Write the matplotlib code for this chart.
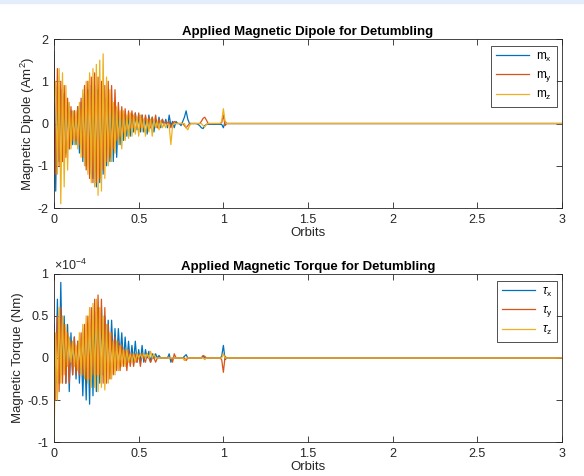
import numpy as np
import matplotlib
matplotlib.use("Agg")
import matplotlib.pyplot as plt
from matplotlib.ticker import FuncFormatter
from matplotlib.patches import Rectangle

plt.rcParams["font.family"] = ["Liberation Sans", "DejaVu Sans"]
plt.rcParams["mathtext.fontset"] = "custom"
plt.rcParams["mathtext.rm"] = "Liberation Sans"
plt.rcParams["mathtext.it"] = "Liberation Sans:italic"

# detumbling log, sampled every 0.01 orbit until the controller settles
orbit_step = 0.01
orbit_end = 3.0

m_x = [1.7, -1.6, 0.9, -0.9, 0.8, -0.9, 0.7, -0.7, 0.5, -0.6,
       0.3, -0.5, 0.3, -0.5, 0.4, -0.7, 0.5, -0.9, 0.7, -1.0,
       0.8, -1.2, 0.9, -1.3, 0.9, -1.5, 0.8, -1.4, 0.7, -1.2,
       0.6, -1.0, 0.5, -0.9, 0.4, -0.9, 0.3, -0.8, 0.3, -0.5,
       0.2, -0.4, 0.2, -0.3, 0.2, -0.3, 0.2, -0.2, 0.25, -0.15,
       0.2, -0.2, 0.2, -0.2, 0.15, -0.25, 0.2, -0.1, 0.15, -0.2,
       0.1, -0.1, 0.15, -0.1, 0.1, -0.05, 0.1, -0.1, 0.2, -0.05,
       0.05, -0.1, 0.05, 0.0, 0.0, -0.05, 0.05, 0.15, 0.3, 0.1,
       0.0, 0.0, 0.0, 0.0, 0.0, -0.02, -0.05, -0.1, -0.12, -0.05,
       -0.02, -0.02, -0.02, -0.02, -0.02, -0.02, -0.02, -0.02, -0.02, -0.02,
       -0.1, 0.05, 0.0, 0.0, 0.0]
m_y = [1.5, -1.2, 1.3, -1.0, 1.0, -0.9, 0.9, -0.8, 0.6, -0.6,
       0.4, -0.4, 0.3, -0.4, 0.4, -0.5, 0.6, -0.8, 0.9, -1.1,
       1.0, -1.3, 1.1, -1.4, 1.2, -1.4, 1.1, -1.3, 1.0, -1.1,
       0.9, -0.9, 1.0, -0.8, 0.9, -0.6, 0.8, -0.4, 0.5, -0.3,
       0.4, -0.2, 0.35, -0.15, 0.3, -0.1, 0.3, -0.1, 0.25, -0.1,
       0.25, -0.1, 0.2, -0.1, 0.2, -0.05, 0.15, -0.1, 0.15, -0.05,
       0.2, -0.1, 0.1, 0.0, 0.1, -0.05, 0.05, 0.0, 0.05, -0.1,
       0.0, 0.05, 0.0, 0.0, 0.0, 0.0, 0.0, -0.05, -0.1, -0.05,
       0.0, 0.0, 0.0, 0.0, 0.0, 0.0, 0.0, 0.05, 0.12, 0.15,
       0.08, 0.0, 0.0, 0.0, 0.0, 0.0, 0.0, 0.0, 0.0, 0.02,
       0.2, -0.05, 0.0, 0.0, 0.0]
m_z = [0.5, 1.0, -1.2, 1.3, -1.9, 1.2, -1.5, 0.9, -1.1, 0.5,
       -0.6, 0.3, -0.5, 0.3, -0.6, 0.5, -0.8, 0.8, -1.0, 1.0,
       -1.2, 1.2, -1.4, 1.3, -1.5, 1.4, -1.7, 1.5, -1.6, 1.65,
       -1.3, 1.1, -1.0, 0.8, -0.9, 0.5, -0.7, 0.4, -0.5, 0.3,
       -0.6, 0.3, -0.4, 0.2, -0.35, 0.25, -0.3, 0.2, -0.25, 0.15,
       -0.3, 0.2, -0.2, 0.1, -0.3, 0.1, -0.2, 0.1, -0.3, 0.1,
       -0.1, 0.05, -0.15, 0.05, -0.1, 0.0, -0.1, 0.0, -0.05, -0.5,
       -0.05, 0.0, 0.0, 0.0, 0.0, 0.0, 0.0, 0.0, -0.1, -0.15,
       -0.05, 0.0, 0.0, 0.0, 0.0, 0.0, 0.0, 0.0, -0.05, -0.08,
       -0.02, 0.0, 0.0, 0.0, 0.0, 0.0, 0.0, 0.0, 0.0, 0.05,
       0.35, 0.05, 0.0, 0.0, 0.0]

# torques in units of 1e-4 Nm
torque_scale_exp = -4
tau_x = [0.2, -0.3, 0.7, -0.3, 0.9, -0.2, 0.5, -0.3, 0.4, -0.4,
         0.3, -0.2, 0.25, -0.25, 0.2, -0.3, 0.15, -0.45, 0.2, -0.5,
         0.3, -0.55, 0.4, -0.45, 0.55, -0.4, 0.6, -0.3, 0.6, -0.2,
         0.5, -0.1, 0.45, -0.1, 0.45, -0.05, 0.35, -0.05, 0.35, 0.0,
         0.3, -0.05, 0.25, -0.05, 0.2, -0.05, 0.15, -0.05, 0.2, -0.05,
         0.1, -0.05, 0.15, -0.05, 0.1, 0.0, 0.08, -0.05, 0.05, 0.0,
         0.05, 0.0, 0.03, 0.0, 0.0, 0.0, 0.0, 0.0, 0.05, -0.05,
         0.0, 0.0, 0.0, 0.0, 0.0, 0.0, 0.0, 0.02, 0.04, 0.0,
         0.0, 0.0, 0.0, 0.0, 0.0, 0.0, 0.0, 0.0, 0.02, 0.0,
         0.0, 0.0, 0.0, 0.0, 0.0, 0.0, 0.0, 0.0, 0.0, 0.02,
         0.15, -0.02, 0.0, 0.0, 0.0]
tau_y = [0.4, -0.5, 0.5, -0.4, 0.6, -0.3, 0.4, -0.3, 0.3, -0.3,
         0.2, -0.2, 0.25, -0.2, 0.2, -0.2, 0.3, -0.2, 0.4, -0.25,
         0.5, -0.25, 0.6, -0.2, 0.7, -0.2, 0.75, -0.2, 0.7, -0.3,
         0.6, -0.3, 0.4, -0.25, 0.3, -0.2, 0.25, -0.15, 0.2, -0.15,
         0.15, -0.1, 0.1, -0.15, 0.1, -0.1, 0.05, -0.1, 0.05, -0.05,
         0.05, -0.1, 0.05, 0.0, -0.05, 0.05, 0.0, -0.05, 0.0, 0.0,
         -0.05, 0.0, 0.0, 0.0, 0.0, 0.0, 0.0, 0.0, 0.0, 0.0,
         -0.05, 0.05, 0.0, 0.0, 0.0, 0.0, 0.0, 0.0, -0.03, 0.0,
         0.0, 0.0, 0.0, 0.0, 0.0, 0.0, 0.0, 0.0, 0.03, 0.02,
         0.0, 0.0, 0.0, 0.0, 0.0, 0.0, 0.0, 0.0, 0.0, -0.02,
         -0.17, 0.02, 0.0, 0.0, 0.0]
tau_z = [-1.0, 0.3, -0.5, 0.6, -0.3, 0.5, -0.2, 0.4, -0.1, 0.25,
         -0.05, 0.2, -0.1, 0.15, -0.15, 0.3, -0.2, 0.4, -0.25, 0.5,
         -0.3, 0.6, -0.35, 0.65, -0.35, 0.7, -0.4, 0.6, -0.35, 0.5,
         -0.38, 0.4, -0.3, 0.3, -0.25, 0.2, -0.2, 0.2, -0.15, 0.15,
         -0.1, 0.1, -0.1, 0.1, -0.05, 0.05, -0.05, 0.05, -0.05, 0.05,
         0.0, 0.05, 0.0, 0.05, 0.0, 0.05, 0.0, 0.08, 0.0, 0.05,
         0.0, 0.0, 0.0, 0.0, 0.0, 0.0, 0.0, 0.0, 0.0, 0.0,
         0.0, 0.0, 0.0, 0.0, 0.0, 0.0, 0.0, -0.03, 0.0, 0.0,
         0.0, 0.0, 0.0, 0.0, 0.0, 0.0, 0.0, 0.0, 0.0, -0.02,
         0.0, 0.0, 0.0, 0.0, 0.0, 0.0, 0.0, 0.0, 0.0, 0.0,
         0.05, 0.0, 0.0, 0.0, 0.0]

colors = ["#0072BD", "#D95319", "#EDB120"]
axis_color = "#262626"


def series(vals):
    t = np.arange(len(vals)) * orbit_step
    return np.append(t, orbit_end), np.append(vals, 0.0)


def style_axes(ax, ylim, yticks):
    ax.set_xlim(0, 3)
    ax.set_ylim(*ylim)
    ax.set_xticks(np.arange(0, 3.01, 0.5))
    ax.set_yticks(yticks)
    fmt = FuncFormatter(lambda v, p: "%g" % v)
    ax.xaxis.set_major_formatter(fmt)
    ax.yaxis.set_major_formatter(fmt)
    ax.tick_params(direction="in", length=4, width=0.6, labelsize=9,
                   colors=axis_color, top=True, right=True, pad=4)
    for s in ax.spines.values():
        s.set_linewidth(0.6)
        s.set_color(axis_color)
    ax.set_xlabel("Orbits", fontsize=9.5, color=axis_color, labelpad=1)


def add_legend(ax):
    leg = ax.legend(loc="upper right", fontsize=8.5, frameon=True,
                    fancybox=False, handlelength=2.8, handletextpad=0.6,
                    borderpad=0.4, labelspacing=0.45, borderaxespad=0,
                    bbox_to_anchor=(0.99, 0.96))
    leg.get_frame().set_edgecolor("black")
    leg.get_frame().set_linewidth(0.6)
    return leg


fig = plt.figure(figsize=(5.84, 4.76), dpi=100)
fig.patches.append(Rectangle((0, 0.993), 1, 0.007, transform=fig.transFigure,
                             color="#e4eefa", zorder=0))

# dipole
ax1 = fig.add_axes([0.0925, 0.563, 0.870, 0.355])
for vals, c, lab in zip([m_x, m_y, m_z], colors,
                        [r"m$_\mathrm{x}$", r"m$_\mathrm{y}$", r"m$_\mathrm{z}$"]):
    t, v = series(vals)
    ax1.plot(t, v, color=c, lw=0.9, label=lab)
style_axes(ax1, (-2, 2), [-2, -1, 0, 1, 2])
ax1.set_title("Applied Magnetic Dipole for Detumbling", fontsize=9.5,
              fontweight="bold", pad=3)
ax1.set_ylabel("Magnetic Dipole (Am$^2$)", fontsize=9.5, color=axis_color,
               labelpad=0.5)
add_legend(ax1)

# torque
ax2 = fig.add_axes([0.0925, 0.0714, 0.870, 0.353])
for vals, c, lab in zip([tau_x, tau_y, tau_z], colors,
                        [r"$\tau_\mathrm{x}$", r"$\tau_\mathrm{y}$", r"$\tau_\mathrm{z}$"]):
    t, v = series(vals)
    ax2.plot(t, v, color=c, lw=0.9, label=lab)
style_axes(ax2, (-1, 1), [-1, -0.5, 0, 0.5, 1])
ax2.set_title("Applied Magnetic Torque for Detumbling", fontsize=9.5,
              fontweight="bold", pad=3)
ax2.set_ylabel("Magnetic Torque (Nm)", fontsize=9.5, color=axis_color,
               labelpad=2)
ax2.text(0.0, 1.005, r"$\times10^{%d}$" % torque_scale_exp, transform=ax2.transAxes,
         fontsize=9, color=axis_color, va="bottom", ha="left")
add_legend(ax2)

fig.savefig("out.png", dpi=100)
